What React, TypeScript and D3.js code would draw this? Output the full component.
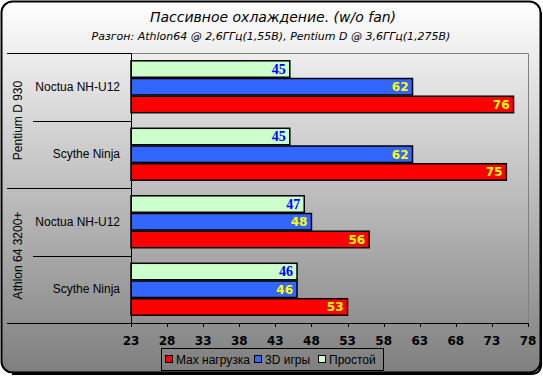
import React from "react";
import * as d3 from "d3";

const groups = ["Pentium D 930", "Athlon 64 3200+"];
const coolers = ["Noctua NH-U12", "Scythe Ninja"];
const categories = ["P-Noctua", "P-Scythe", "A-Noctua", "A-Scythe"];
const seriesNames = ["Простой", "3D игры", "Max нагрузка"];
const idleValues = [45, 45, 47, 46];
const gameValues = [62, 62, 48, 46];
const maxValues = [76, 75, 56, 53];
const tickValues = [23, 28, 33, 38, 43, 48, 53, 58, 63, 68, 73, 78];
const legendOrder = ["Max нагрузка", "3D игры", "Простой"];

const colors: Record<string, string> = {
  "Простой": "#ccffcc",
  "3D игры": "#3366ff",
  "Max нагрузка": "#ff0000",
};
const labelColors: Record<string, string> = {
  "Простой": "#0000ff",
  "3D игры": "#ffff00",
  "Max нагрузка": "#ffff00",
};

export default function App() {
  const W = 543, H = 376;
  const left = 131, right = 528, top = 53, bottom = 323;
  const x = d3.scaleLinear().domain([23, 78]).range([left, right]);
  const y = d3.scaleBand().domain(categories).range([top, bottom]).padding(0);
  const inner = d3.scaleBand().domain(seriesNames).range([0, y.bandwidth()]).paddingInner(0.07).paddingOuter(0.44);
  const valuesBySeries: Record<string, number[]> = {
    "Простой": idleValues,
    "3D игры": gameValues,
    "Max нагрузка": maxValues,
  };
  const bw = y.bandwidth();
  const sans = "'Liberation Sans', Arial, sans-serif";
  const wide = "'DejaVu Sans', Verdana, sans-serif";

  return (
    <svg width={W} height={H} style={{ position: "absolute", left: 0, top: 0 }}>
      <defs>
        <linearGradient id="bg" x1="0" y1="0" x2="0" y2="1">
          <stop offset="0" stopColor="#ffffff" />
          <stop offset="1" stopColor="#7f7f7f" />
        </linearGradient>
      </defs>
      <rect x={1.5} y={1.5} width={539} height={371} rx={11} fill="url(#bg)" stroke="#000" strokeWidth={2} />
      <path d={`M541,12 L541,364 Q541,374 531,374 L12,374`} fill="none" stroke="#000" strokeWidth={2} />
      <text x={273} y={22} textAnchor="middle" fontFamily={wide} fontStyle="italic" fontSize={14}>Пассивное охлаждение. (w/o fan)</text>
      <text x={271} y={40} textAnchor="middle" fontFamily={wide} fontStyle="italic" fontSize={11}>Разгон: Athlon64 @ 2,6ГГц(1,55В), Pentium D @ 3,6ГГц(1,275В)</text>

      {/* plot border */}
      <path d={`M${left},${top + 0.5} L${right + 0.5},${top + 0.5} L${right + 0.5},${bottom}`} fill="none" stroke="#808080" strokeWidth={1} />

      {/* bars */}
      {categories.map((c, i) => (
        <g key={c} transform={`translate(0,${y(c)})`}>
          {seriesNames.map((s) => {
            const v = valuesBySeries[s][i];
            const by = inner(s)!;
            return (
              <g key={s}>
                <rect x={x(23)} y={by} width={x(v) - x(23)} height={inner.bandwidth()} fill={colors[s]} stroke="#000" strokeWidth={1.5} />
                <text x={x(v) - 4} y={by + inner.bandwidth() / 2 + 4.5} textAnchor="end"
                  fontFamily={s === "Простой" ? "'Liberation Serif', serif" : "'DejaVu Sans', sans-serif"}
                  fontWeight="bold" fontSize={s === "Простой" ? 14 : 12} fill={labelColors[s]}>{v}</text>
              </g>
            );
          })}
        </g>
      ))}

      {/* category labels and separators */}
      {categories.map((c, i) => (
        <text key={c} x={120} y={y(c)! + bw / 2 + 4} textAnchor="end" fontFamily={sans} fontSize={12}>{coolers[i % 2]}</text>
      ))}
      {groups.map((g, gi) => {
        const cy = top + bw * (gi * 2 + 1);
        return (
          <text key={g} transform={`translate(22,${cy}) rotate(-90)`} textAnchor="middle" fontFamily={sans} fontSize={12}>{g}</text>
        );
      })}
      <line x1={7} x2={left} y1={top + 0.5} y2={top + 0.5} stroke="#000" />
      <line x1={33} x2={left} y1={Math.round(top + bw) + 0.5} y2={Math.round(top + bw) + 0.5} stroke="#000" />
      <line x1={7} x2={left} y1={Math.round(top + bw * 2) + 0.5} y2={Math.round(top + bw * 2) + 0.5} stroke="#000" />
      <line x1={33} x2={left} y1={Math.round(top + bw * 3) + 0.5} y2={Math.round(top + bw * 3) + 0.5} stroke="#000" />
      <line x1={7} x2={right + 1} y1={bottom + 0.5} y2={bottom + 0.5} stroke="#000" />
      <line x1={left + 0.5} x2={left + 0.5} y1={top} y2={bottom + 4} stroke="#000" />

      {/* x ticks */}
      {tickValues.map((t) => (
        <g key={t}>
          <line x1={Math.round(x(t)) + 0.5} x2={Math.round(x(t)) + 0.5} y1={bottom} y2={bottom + 4} stroke="#000" />
          <text x={x(t)} y={345} textAnchor="middle" fontFamily={"'DejaVu Sans', sans-serif"} fontWeight="bold" fontSize={12}>{t}</text>
        </g>
      ))}

      {/* legend */}
      <rect x={161.5} y={348.5} width={222} height={22} fill="none" stroke="#000" />
      {legendOrder.map((s, i) => {
        const xs = [165, 254, 318][i];
        return (
          <g key={s}>
            <rect x={xs + 0.5} y={355.5} width={7} height={7} fill={colors[s]} stroke="#000" />
            <text x={xs + 11} y={364} fontFamily={sans} fontSize={12}>{s}</text>
          </g>
        );
      })}
    </svg>
  );
}
